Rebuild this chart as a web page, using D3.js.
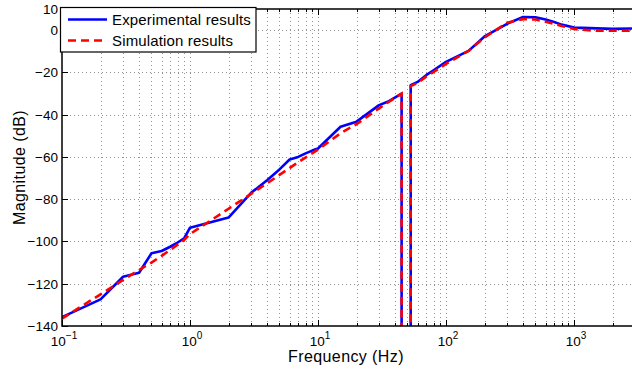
<!DOCTYPE html>
<html>
<head>
<meta charset="utf-8">
<script src="https://cdn.jsdelivr.net/npm/d3@7"></script>
<style>
  body { margin: 0; background: #fff; }
  svg { font-family: "Liberation Sans", Arial, sans-serif; }
</style>
</head>
<body>
<div id="chart"></div>
<script>
// measured data
const expFreq = [0.1, 0.2, 0.3, 0.4, 0.5, 0.6, 0.7, 0.8, 0.9, 1, 2, 3, 4, 5, 6, 7, 8, 9, 10, 15, 20, 30, 35, 45, 45, 53, 53, 60, 70, 80, 100, 150, 200, 300, 400, 500, 600, 700, 800, 1000, 2000, 3000];
const expMag = [-135.8, -127.4, -116.7, -114.8, -105.6, -104.5, -102.5, -100.5, -98.5, -93.5, -88.7, -77, -71, -65.9, -61.2, -60, -58.3, -57, -56, -45.7, -43.3, -35.5, -33.9, -30, -250, -250, -26, -24.5, -21.3, -19, -15, -9.8, -3, 3, 6.2, 6.1, 5, 3.8, 2.6, 1.2, 0.6, 0.8];

// simulated data
const simFreq = [0.1, 0.2, 0.3, 0.4, 0.5, 0.6, 0.7, 0.8, 0.9, 1, 1.5, 2, 3, 4, 5, 7, 10, 15, 20, 30, 40, 45, 45, 53, 53, 60, 70, 80, 100, 150, 200, 300, 400, 500, 600, 700, 800, 1000, 1500, 3000];
const simMag = [-136.5, -125, -118.2, -113.5, -110, -106.8, -104, -101.5, -99.3, -96.5, -89.5, -84.5, -77.5, -72.5, -68.5, -62.5, -56.5, -48.8, -44.5, -37, -32, -30, -250, -250, -26.5, -25, -22, -19.8, -16, -9.8, -3.5, 3.5, 5.2, 5, 4, 3, 2, 0.5, -0.3, -0.3];

const yTicks = [10, 0, -20, -40, -60, -80, -100, -120, -140];
const xMajor = [0.1, 1, 10, 100, 1000];
const xExp = ["\u22121", "0", "1", "2", "3"];

const width = 632, height = 376;
const mLeft = 62, mTop = 9, mBottom = 326;
const mRight = width;

const x = d3.scaleLog().domain([0.1, 3000]).range([mLeft, mLeft + 128 * Math.log10(30000)]);
const y = d3.scaleLinear().domain([-140, 10]).range([mBottom, mTop]);

const svg = d3.select("#chart").append("svg")
    .attr("width", width)
    .attr("height", height);

svg.append("clipPath").attr("id", "clip")
    .append("rect")
    .attr("x", mLeft).attr("y", mTop)
    .attr("width", mRight - mLeft).attr("height", mBottom - mTop);

// minor ticks
const xMinor = [];
xMajor.forEach(d => {
    for (let k = 2; k <= 9; k++) {
        if (d * k <= 3000) xMinor.push(d * k);
    }
});

// grid
const grid = svg.append("g").attr("stroke", "#777").attr("stroke-width", 0.8)
    .attr("stroke-dasharray", "1,3");
grid.selectAll(".gx")
    .data(xMajor.concat(xMinor).filter(d => d > 0.1))
    .join("line")
    .attr("x1", d => Math.round(x(d)) + 0.5).attr("x2", d => Math.round(x(d)) + 0.5)
    .attr("y1", mTop).attr("y2", mBottom);
grid.selectAll(".gy")
    .data(yTicks.filter(d => d < 10 && d > -140))
    .join("line")
    .attr("x1", mLeft).attr("x2", mRight)
    .attr("y1", d => Math.round(y(d)) + 0.5).attr("y2", d => Math.round(y(d)) + 0.5);

// tick marks
const ticks = svg.append("g").attr("stroke", "#000").attr("stroke-width", 1);
ticks.selectAll(".tmaj")
    .data(xMajor)
    .join("path")
    .attr("d", d => {
        const px = Math.round(x(d)) + 0.5;
        return `M${px},${mBottom}v-6M${px},${mTop}v6`;
    });
ticks.selectAll(".tmin")
    .data(xMinor)
    .join("path")
    .attr("d", d => {
        const px = Math.round(x(d)) + 0.5;
        return `M${px},${mBottom}v-3M${px},${mTop}v3`;
    });
ticks.selectAll(".ty")
    .data(yTicks)
    .join("path")
    .attr("d", d => {
        const py = Math.round(y(d)) + 0.5;
        return `M${mLeft},${py}h6`;
    });

// data lines
const line = d3.line()
    .x(d => x(d[0]))
    .y(d => y(d[1]));

const plot = svg.append("g").attr("clip-path", "url(#clip)");

plot.append("path")
    .datum(expFreq.map((f, i) => [f, expMag[i]]))
    .attr("fill", "none")
    .attr("stroke", "#0000ff")
    .attr("stroke-width", 2.6)
    .attr("stroke-linejoin", "round")
    .attr("d", line);

plot.append("path")
    .datum(simFreq.map((f, i) => [f, simMag[i]]))
    .attr("fill", "none")
    .attr("stroke", "#ff0000")
    .attr("stroke-width", 2.6)
    .attr("stroke-dasharray", "8,5")
    .attr("d", line);

// box
svg.append("path")
    .attr("d", `M${mRight},${mTop}H${mLeft}V${mBottom}H${mRight}`)
    .attr("fill", "none")
    .attr("stroke", "#000")
    .attr("stroke-width", 1.5);

// y tick labels
svg.append("g").selectAll("text")
    .data(yTicks)
    .join("text")
    .attr("x", mLeft - 4)
    .attr("y", d => y(d) + 5)
    .attr("text-anchor", "end")
    .style("font-size", "13.5px")
    .text(d => d < 0 ? "\u2212" + Math.abs(d) : d);

// x tick labels
const xl = svg.append("g").selectAll("text")
    .data(xMajor)
    .join("text")
    .attr("x", d => x(d) + 2)
    .attr("y", 346)
    .attr("text-anchor", "middle")
    .style("font-size", "13.5px");
xl.append("tspan").text("10");
xl.append("tspan")
    .attr("dy", -7)
    .style("font-size", "10px")
    .text((d, i) => xExp[i]);

// axis titles
svg.append("text")
    .attr("x", 346)
    .attr("y", 362)
    .attr("text-anchor", "middle")
    .style("font-size", "16px")
    .style("letter-spacing", "0.4px")
    .text("Frequency (Hz)");

svg.append("text")
    .attr("transform", `translate(25,${(mTop + mBottom) / 2}) rotate(-90)`)
    .attr("text-anchor", "middle")
    .style("font-size", "16px")
    .style("letter-spacing", "0.4px")
    .text("Magnitude (dB)");

// legend
const legend = svg.append("g");
legend.append("rect")
    .attr("x", 60.5).attr("y", 7.5)
    .attr("width", 195.5).attr("height", 44.5)
    .attr("fill", "#fff")
    .attr("stroke", "#000")
    .attr("stroke-width", 1.2);

const legendItems = [
    { name: "Experimental results", color: "#0000ff", dash: null, yy: 19.5 },
    { name: "Simulation results", color: "#ff0000", dash: "8,5", yy: 40.5 }
];
const li = legend.selectAll(".li")
    .data(legendItems)
    .join("g");
li.append("line")
    .attr("x1", 68).attr("x2", 107)
    .attr("y1", d => d.yy).attr("y2", d => d.yy)
    .attr("stroke", d => d.color)
    .attr("stroke-width", 2.6)
    .attr("stroke-dasharray", d => d.dash);
li.append("text")
    .attr("x", 112)
    .attr("y", d => d.yy + 5.5)
    .style("font-size", "15px")
    .style("letter-spacing", "0.15px")
    .text(d => d.name);
</script>
</body>
</html>
